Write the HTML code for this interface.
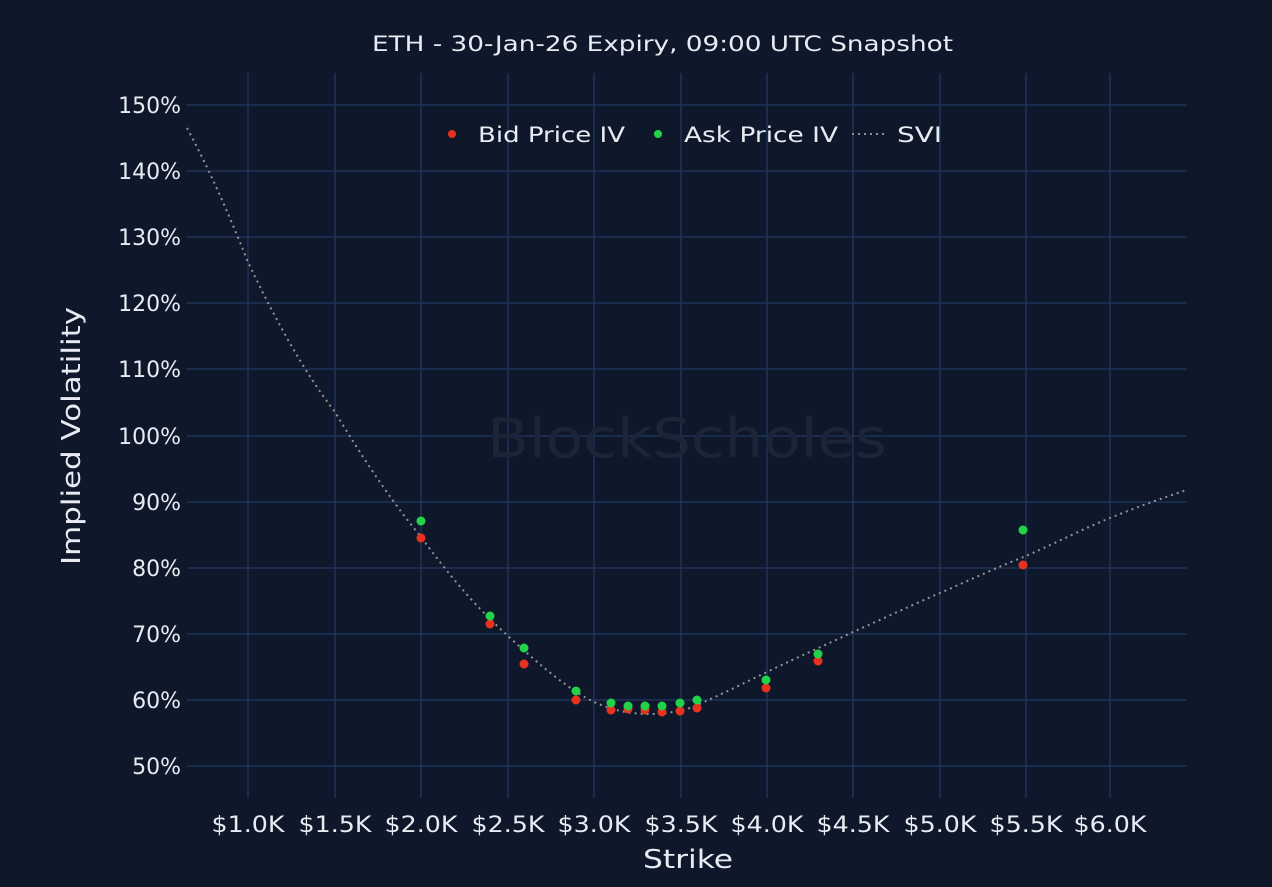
<!DOCTYPE html>
<html><head><style>
body{margin:0;background:#0f182b;}
svg{display:block;font-family:"DejaVu Sans","Liberation Sans",sans-serif;}
</style></head><body>
<svg width="1272" height="887" viewBox="0 0 1272 887" xmlns="http://www.w3.org/2000/svg">
<rect width="1272" height="887" fill="#0f182b"/>
<text x="372" y="51" fill="#e8ecf2" font-size="21" textLength="581" lengthAdjust="spacingAndGlyphs">ETH - 30-Jan-26 Expiry, 09:00 UTC Snapshot</text>
<g stroke="#1f3256" stroke-width="1.5">
<line x1="187" x2="1187" y1="105" y2="105"/><line x1="187" x2="1187" y1="171" y2="171"/>
<line x1="187" x2="1187" y1="237" y2="237"/><line x1="187" x2="1187" y1="303" y2="303"/>
<line x1="187" x2="1187" y1="369" y2="369"/><line x1="187" x2="1187" y1="436" y2="436"/>
<line x1="187" x2="1187" y1="502" y2="502"/><line x1="187" x2="1187" y1="568" y2="568"/>
<line x1="187" x2="1187" y1="634" y2="634"/><line x1="187" x2="1187" y1="700" y2="700"/>
<line x1="187" x2="1187" y1="766" y2="766"/>
<line y1="73" y2="798" x1="248" x2="248"/><line y1="73" y2="798" x1="335" x2="335"/>
<line y1="73" y2="798" x1="421" x2="421"/><line y1="73" y2="798" x1="508" x2="508"/>
<line y1="73" y2="798" x1="594" x2="594"/><line y1="73" y2="798" x1="681" x2="681"/>
<line y1="73" y2="798" x1="767" x2="767"/><line y1="73" y2="798" x1="853" x2="853"/>
<line y1="73" y2="798" x1="940" x2="940"/><line y1="73" y2="798" x1="1026" x2="1026"/>
<line y1="73" y2="798" x1="1110" x2="1110"/>
</g>
<text x="487" y="457" fill="#1c2537" font-size="54" textLength="400" lengthAdjust="spacingAndGlyphs">BlockScholes</text>
<g fill="#e8ecf2" font-size="22" text-anchor="end">
<text x="181" y="113">150%</text><text x="181" y="179">140%</text><text x="181" y="245">130%</text>
<text x="181" y="311">120%</text><text x="181" y="377">110%</text><text x="181" y="444">100%</text>
<text x="181" y="510">90%</text><text x="181" y="576">80%</text><text x="181" y="642">70%</text>
<text x="181" y="708">60%</text><text x="181" y="774">50%</text>
</g>
<g fill="#e8ecf2" font-size="22" text-anchor="middle">
<text x="248" y="832" textLength="73" lengthAdjust="spacingAndGlyphs">$1.0K</text><text x="335" y="832" textLength="73" lengthAdjust="spacingAndGlyphs">$1.5K</text><text x="421" y="832" textLength="73" lengthAdjust="spacingAndGlyphs">$2.0K</text>
<text x="508" y="832" textLength="73" lengthAdjust="spacingAndGlyphs">$2.5K</text><text x="594" y="832" textLength="73" lengthAdjust="spacingAndGlyphs">$3.0K</text><text x="681" y="832" textLength="73" lengthAdjust="spacingAndGlyphs">$3.5K</text>
<text x="767" y="832" textLength="73" lengthAdjust="spacingAndGlyphs">$4.0K</text><text x="853" y="832" textLength="73" lengthAdjust="spacingAndGlyphs">$4.5K</text><text x="940" y="832" textLength="73" lengthAdjust="spacingAndGlyphs">$5.0K</text>
<text x="1026" y="832" textLength="73" lengthAdjust="spacingAndGlyphs">$5.5K</text><text x="1110" y="832" textLength="73" lengthAdjust="spacingAndGlyphs">$6.0K</text>
</g>
<text x="643" y="868" fill="#e8ecf2" font-size="26" textLength="90" lengthAdjust="spacingAndGlyphs">Strike</text>
<text transform="translate(80,565) rotate(-90)" fill="#e8ecf2" font-size="26" textLength="258" lengthAdjust="spacingAndGlyphs">Implied Volatility</text>
<path d="M187,128 C215,180 235,230 248,262 C280,330 310,380 335,412 C370,470 395,505 421,537 C460,590 485,615 508,636 C545,670 570,690 594,702 C615,711 630,714 650,714 C665,714 675,712 690,708 C710,700 740,685 767,672 C800,656 830,643 853,632 C880,620 910,606 940,593 C970,580 1000,566 1026,556 C1060,541 1085,528 1110,518 C1140,506 1165,497 1187,490" fill="none" stroke="#8f949c" stroke-width="2" stroke-dasharray="2,4"/>
<g fill="#e8321e">
<circle cx="421" cy="538" r="4.5"/><circle cx="490" cy="624" r="4.5"/><circle cx="524" cy="664" r="4.5"/>
<circle cx="576" cy="700" r="4.5"/><circle cx="611" cy="710" r="4.5"/><circle cx="628" cy="709" r="4.5"/>
<circle cx="645" cy="710" r="4.5"/><circle cx="662" cy="712" r="4.5"/><circle cx="680" cy="711" r="4.5"/>
<circle cx="697" cy="708" r="4.5"/><circle cx="766" cy="688" r="4.5"/><circle cx="818" cy="661" r="4.5"/>
<circle cx="1023" cy="565" r="4.5"/>
</g>
<g fill="#22d34a">
<circle cx="421" cy="521" r="4.5"/><circle cx="490" cy="616" r="4.5"/><circle cx="524" cy="648" r="4.5"/>
<circle cx="576" cy="691" r="4.5"/><circle cx="611" cy="703" r="4.5"/><circle cx="628" cy="706" r="4.5"/>
<circle cx="645" cy="706" r="4.5"/><circle cx="662" cy="706" r="4.5"/><circle cx="680" cy="703" r="4.5"/>
<circle cx="697" cy="700" r="4.5"/><circle cx="766" cy="680" r="4.5"/><circle cx="818" cy="654" r="4.5"/>
<circle cx="1023" cy="530" r="4.5"/>
</g>
<circle cx="452" cy="134" r="4" fill="#e8321e"/>
<text x="478" y="142" fill="#e8ecf2" font-size="21" textLength="147" lengthAdjust="spacingAndGlyphs">Bid Price IV</text>
<circle cx="658" cy="134" r="4" fill="#22d34a"/>
<text x="684" y="142" fill="#e8ecf2" font-size="21" textLength="154" lengthAdjust="spacingAndGlyphs">Ask Price IV</text>
<line x1="852" x2="888" y1="134" y2="134" stroke="#8f949c" stroke-width="2" stroke-dasharray="2,4"/>
<text x="897" y="142" fill="#e8ecf2" font-size="21" textLength="45" lengthAdjust="spacingAndGlyphs">SVI</text>
</svg>
</body></html>
